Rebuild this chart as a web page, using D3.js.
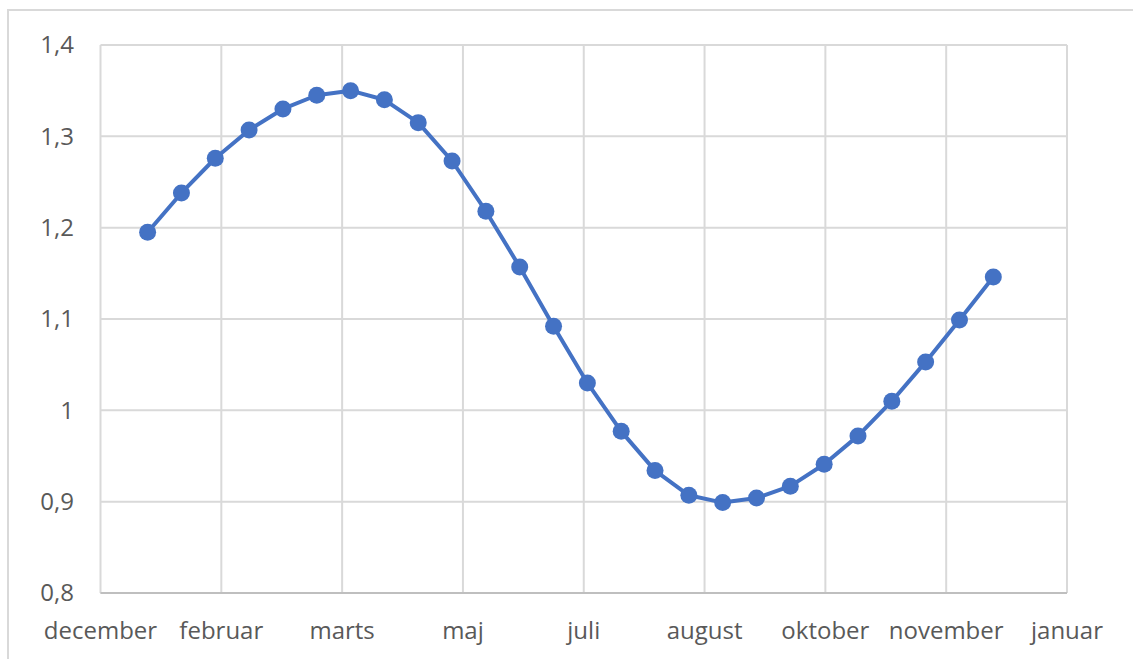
<!DOCTYPE html>
<html>
<head>
<meta charset="utf-8">
<script src="https://cdn.jsdelivr.net/npm/d3@7"></script>
<style>
  body { margin: 0; background: #fff; }
  svg text { font-family: "Open Sans", sans-serif; fill: #595959; }
</style>
</head>
<body>
<script>
'use strict';

// x positions as day offsets from the first gridline (december)
const days = [19.5, 33.5, 47.5, 61.5, 75.5, 89.5, 103.5, 117.5, 131.5, 145.5, 159.5, 173.5, 187.5,
  201.5, 215.5, 229.5, 243.5, 257.5, 271.5, 285.5, 299.5, 313.5, 327.5, 341.5, 355.5, 369.5];
const values = [1.195, 1.238, 1.276, 1.307, 1.330, 1.345, 1.350, 1.340, 1.315, 1.273, 1.218, 1.157, 1.092,
  1.030, 0.977, 0.934, 0.907, 0.899, 0.904, 0.917, 0.941, 0.972, 1.010, 1.053, 1.099, 1.146];

const xTickDays = [0, 50, 100, 150, 200, 250, 300, 350, 400];
const xTickLabels = ['december', 'februar', 'marts', 'maj', 'juli', 'august', 'oktober', 'november', 'januar'];
const yTickValues = [0.8, 0.9, 1.0, 1.1, 1.2, 1.3, 1.4];
const yTickLabels = ['0,8', '0,9', '1', '1,1', '1,2', '1,3', '1,4'];

const width = 1133;
const height = 659;
const plot = { left: 100.5, right: 1067, top: 45, bottom: 593 };

const svg = d3.select('body')
  .append('svg')
  .attr('width', width)
  .attr('height', height);

// outer chart frame (cut off on the right and bottom)
svg.append('rect')
  .attr('x', 8)
  .attr('y', 10)
  .attr('width', 1145)
  .attr('height', 660)
  .attr('fill', 'none')
  .attr('stroke', '#d9d9d9')
  .attr('stroke-width', 2);

const xScale = d3.scaleLinear()
  .domain([0, 400])
  .range([plot.left, plot.right]);

const yScale = d3.scaleLinear()
  .domain([0.8, 1.4])
  .range([plot.bottom, plot.top]);

// horizontal gridlines
svg.append('g')
  .selectAll('line')
  .data(yTickValues)
  .enter()
  .append('line')
  .attr('x1', plot.left)
  .attr('x2', plot.right)
  .attr('y1', d => yScale(d))
  .attr('y2', d => yScale(d))
  .attr('stroke', '#d9d9d9')
  .attr('stroke-width', 2);

// vertical gridlines
svg.append('g')
  .selectAll('line')
  .data(xTickDays)
  .enter()
  .append('line')
  .attr('x1', d => xScale(d))
  .attr('x2', d => xScale(d))
  .attr('y1', plot.top)
  .attr('y2', plot.bottom)
  .attr('stroke', '#d9d9d9')
  .attr('stroke-width', 2);

// bottom axis line
svg.append('line')
  .attr('x1', plot.left)
  .attr('x2', plot.right)
  .attr('y1', plot.bottom)
  .attr('y2', plot.bottom)
  .attr('stroke', '#bfbfbf')
  .attr('stroke-width', 2);

// y tick labels
svg.append('g')
  .selectAll('text')
  .data(yTickValues)
  .enter()
  .append('text')
  .attr('x', 74)
  .attr('y', d => yScale(d))
  .attr('dy', '0.35em')
  .attr('text-anchor', 'end')
  .style('font-size', '24px')
  .text((d, i) => yTickLabels[i]);

// x tick labels
svg.append('g')
  .selectAll('text')
  .data(xTickDays)
  .enter()
  .append('text')
  .attr('x', d => xScale(d))
  .attr('y', 631)
  .attr('dy', '0.35em')
  .attr('text-anchor', 'middle')
  .style('font-size', '24px')
  .text((d, i) => xTickLabels[i]);

// series line and markers
const points = days.map((d, i) => ({ day: d, value: values[i] }));

const line = d3.line()
  .x(d => xScale(d.day))
  .y(d => yScale(d.value));

svg.append('path')
  .datum(points)
  .attr('d', line)
  .attr('fill', 'none')
  .attr('stroke', '#4472c4')
  .attr('stroke-width', 4)
  .attr('stroke-linejoin', 'round');

svg.append('g')
  .selectAll('circle')
  .data(points)
  .enter()
  .append('circle')
  .attr('cx', d => xScale(d.day))
  .attr('cy', d => yScale(d.value))
  .attr('r', 8.5)
  .attr('fill', '#4472c4');
</script>
</body>
</html>
